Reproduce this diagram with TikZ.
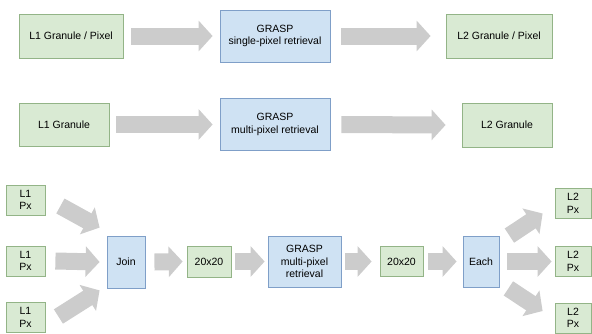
\documentclass[tikz,border=0pt]{standalone}
\usepackage{fontspec}
\setmainfont{Liberation Sans}
\usetikzlibrary{arrows.meta,calc}
\definecolor{datfill}{HTML}{D9EAD3}
\definecolor{datline}{HTML}{93B487}
\definecolor{procfill}{HTML}{CFE2F3}
\definecolor{procline}{HTML}{7F9FC8}
\definecolor{blkgray}{HTML}{CCCCCC}
\tikzset{
	box/.style={draw, line width=0.8pt, align=center, inner sep=0pt},
	datbox/.style={box, fill=datfill, draw=datline},
	procbox/.style={box, fill=procfill, draw=procline},
	blk/.style={draw=blkgray, line width=17pt, -{Triangle[width=30pt,length=14pt]}}
}
\begin{document}
\begin{tikzpicture}[x=1pt, y=-1pt, font=\fontsize{10.5}{12.5}\selectfont]
			\useasboundingbox (0,0) rectangle (592,333);

			% single pixel
			\node[datbox, minimum width=104pt, minimum height=44pt] (g1) at (71,36) {L1 Granule / Pixel};
			\node[procbox, minimum width=110pt, minimum height=52pt] (r1) at (275,36) {GRASP\\single-pixel retrieval};
			\node[datbox, minimum width=106pt, minimum height=44pt] (o1) at (499,36) {L2 Granule / Pixel};

			% multi pixel
			\node[datbox, minimum width=90pt, minimum height=43pt] (g2) at (64,124.5) {L1 Granule};
			\node[procbox, minimum width=110pt, minimum height=52pt] (r2) at (275,124.5) {GRASP\\multi-pixel retrieval};
			\node[datbox, minimum width=90pt, minimum height=44pt] (o2) at (507,125) {L2 Granule};

			% tiled
			\foreach \n/\y in {p1/200,p2/261,p3/317.5}
			\node[datbox, minimum width=39pt, minimum height=30pt] (\n) at (25.5,\y) {L1\\Px};
			\foreach \n/\y in {q1/203.5,q2/261.5,q3/318}
			\node[datbox, minimum width=36pt, minimum height=30pt] (\n) at (573,\y) {L2\\Px};

			\node[procbox, minimum width=38pt, minimum height=52pt] (join) at (126,262) {Join};
			\node[datbox, minimum width=44pt, minimum height=31pt] (s1) at (209,261.5) {20x20};
			\node[procbox, minimum width=73pt, minimum height=51pt] (r3) at (304.5,261.5) {GRASP\\multi-pixel\\retrieval};
			\node[datbox, minimum width=43pt, minimum height=30pt] (s2) at (401.5,261.5) {20x20};
			\node[procbox, minimum width=36pt, minimum height=51pt] (each) at (481,261.5) {Each};

			\draw[blk] ([xshift=8pt]g1.east) -- ([xshift=-7pt]r1.west);
			\draw[blk] ([xshift=11pt]r1.east) -- ([xshift=-15pt]o1.west);
			\draw[blk] ([xshift=7pt]g2.east) -- ([xshift=-7pt]r2.west);
			\draw[blk] ([xshift=11pt]r2.east) -- ([xshift=-16pt]o2.west);

			\draw[blk] ($(p1.east)+(15,6)$) -- ($(join.north west)+(-7,-8)$);
			\draw[blk] ([xshift=10pt]p2.east) -- ([xshift=-7pt]join.west);
			\draw[blk] ($(p3.east)+(13,-1)$) -- ($(join.south west)+(-7,2)$);
			\draw[blk] ([xshift=9pt]join.east) -- ([xshift=-4pt]s1.west);
			\draw[blk] ([xshift=4pt]s1.east) -- ([xshift=-3pt]r3.west);
			\draw[blk] ([xshift=4pt]r3.east) -- ([xshift=-8pt]s2.west);
			\draw[blk] ([xshift=5pt]s2.east) -- ([xshift=-6pt]each.west);
			\draw[blk] ([xshift=8pt]each.east) -- ([xshift=-3pt]q2.west);
			\draw[blk] ($(each.north east)+(10,0)$) -- ($(q1.west)+(-12,10)$);
			\draw[blk] ($(each.south east)+(9,1)$) -- ($(q3.west)+(-12,-7)$);
		\end{tikzpicture}
\end{document}
